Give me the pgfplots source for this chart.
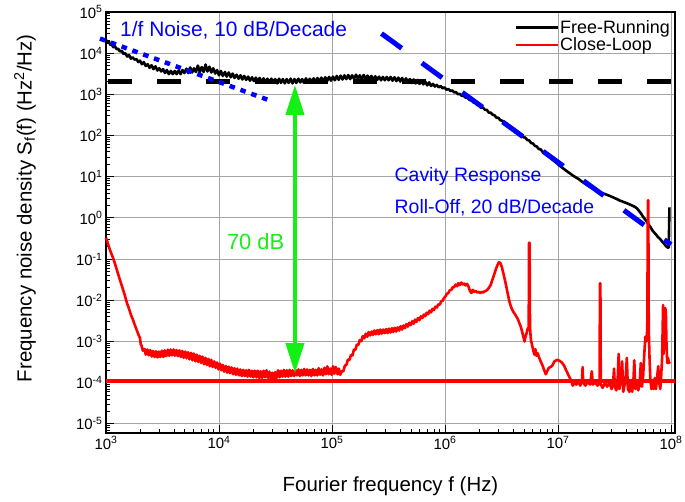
\documentclass[border=0pt]{standalone}
\usepackage{fontspec}
\setmainfont{Liberation Sans}
\usepackage{pgfplots}
\usepackage{pgfplotstable}
\pgfplotsset{compat=1.18}
\usetikzlibrary{arrows.meta}
\definecolor{argreen}{RGB}{20,240,20}
\definecolor{gridgray}{RGB}{165,165,165}

\pgfplotstableread{
f S
1000 21000
1030 18000
1060 19500
1090 16000
1120 16800
1160 14000
1200 14800
1240 12600
1280 12800
1330 11000
1380 11400
1430 9600
1480 10000
1540 8300
1600 9000
1660 7400
1720 7900
1790 7000
1860 7200
1930 6100
2000 6600
2080 5400
2160 6100
2250 4900
2340 5400
2430 4400
2530 5100
2630 4100
2740 4800
2850 3800
2960 4300
3080 3600
3200 4100
3330 3300
3460 3900
3600 3100
3750 3700
3900 3100
4060 3700
4220 3100
4390 3800
4570 3100
4750 3900
4940 3300
5140 4200
5350 3300
5560 4500
5780 3400
6010 4300
6250 3500
6500 5000
6760 3500
7030 4600
7310 3500
7600 5300
7900 3600
8220 4700
8550 3400
8890 4300
9250 3200
9620 3900
10000 2900
10400 3700
10800 2800
11300 3500
11700 2700
12200 3400
12700 2600
13200 3200
13700 2500
14300 3000
14900 2400
15500 2900
16100 2300
16700 2800
17400 2250
18100 2700
18800 2150
19600 2600
20400 2100
21200 2550
22000 2050
22900 2500
23800 2000
24800 2450
25800 1950
26800 2400
27900 1900
29000 2400
30200 1950
31400 2350
32700 1850
34000 2400
35300 1900
36700 2350
38200 1850
39700 2350
41300 1900
43000 2400
44700 1850
46500 2350
48300 1900
50300 2400
52300 1950
54400 2350
56500 1900
58800 2450
61100 1950
63600 2400
66100 1900
68800 2450
71500 1950
74400 2500
77400 2000
80400 2550
83700 2050
87000 2600
90500 2100
94100 2650
97900 2150
101800 2700
105900 2200
110100 2800
114500 2250
119100 2850
123800 2300
128800 2900
133900 2350
139300 2950
144800 2350
150600 2900
156700 2400
163000 3000
169500 2400
176200 2900
183300 2350
190600 2950
198200 2350
206100 2850
214400 2300
223000 2800
231900 2250
241200 2750
250800 2250
260800 2700
271300 2200
282100 2650
293400 2200
305100 2650
317300 2200
330000 2650
343200 2150
356900 2600
371200 2100
386000 2550
401500 2050
417500 2500
434200 2000
451600 2450
469600 1950
488400 2350
507900 1900
528300 2300
549400 1850
571400 2250
594200 1800
618000 2150
642700 1750
668400 2050
695200 1650
723000 1950
751900 1600
782000 1800
813200 1550
845800 1700
879600 1480
914800 1600
951400 1400
989400 1480
1029000 1300
1070000 1350
1113000 1220
1158000 1240
1204000 1120
1252000 1130
1302000 1010
1354000 1020
1408000 920
1465000 930
1523000 830
1584000 830
1648000 730
1714000 720
1782000 640
1853000 630
1928000 560
2005000 550
2085000 480
2168000 480
2255000 420
2345000 420
2439000 360
2536000 360
2638000 320
2743000 310
2853000 270
2967000 270
3086000 235
3209000 230
3337000 200
3471000 195
3610000 170
3754000 168
3904000 146
4060000 142
4223000 125
4392000 121
4567000 107
4750000 104
4940000 91
5137000 89
5343000 78
5556000 76
5779000 66
6010000 64
6250000 56
6500000 54
6760000 47
7031000 46
7312000 40
7604000 38.5
7909000 34.5
8225000 31.5
8554000 29
8896000 26.5
9252000 24
9622000 22
10010000 20
10400000 18.3
10820000 16.8
11250000 15.5
11700000 14.3
12170000 13.2
12660000 12.2
13160000 11.3
13690000 10.5
14240000 9.8
14800000 9.2
15400000 8.6
16020000 7.9
16660000 7.3
17320000 6.8
18010000 6.3
18730000 5.9
19480000 5.5
20260000 5.2
21070000 4.9
21910000 4.6
22790000 4.4
23700000 4.2
24650000 4.0
25630000 3.85
26660000 3.7
27720000 3.55
28830000 3.4
29990000 3.25
31190000 3.1
32430000 2.95
33730000 2.8
35080000 2.65
36480000 2.55
37940000 2.45
39460000 2.35
41030000 2.25
42680000 2.15
44380000 2.05
46160000 1.95
48000000 1.85
49920000 1.7
51920000 1.5
54000000 1.3
56160000 1.1
58400000 0.95
60740000 0.83
63170000 0.7
65700000 0.6
68330000 0.5
71060000 0.44
73900000 0.39
76860000 0.34
79930000 0.31
83130000 0.27
86460000 0.24
89920000 0.21
93500000 0.19
95500000 0.19
96000000 0.5
96800000 1.8
}\blackdata

\pgfplotstableread{
f S
1000 0.33
1030 0.26
1060 0.2
1100 0.15
1150 0.11
1200 0.078
1260 0.05
1330 0.031
1400 0.02
1470 0.013
1530 0.0087
1600 0.0062
1660 0.0045
1730 0.0034
1800 0.0025
1870 0.0019
1950 0.0014
2000 0.0012
2030 0.00085
2060 8.0e-4
2120 6.0e-4
2190 6.6e-4
2250 4.8e-4
2320 6.4e-4
2390 4.6e-4
2460 6.2e-4
2540 4.3e-4
2610 5.9e-4
2690 4.2e-4
2770 5.8e-4
2860 4.1e-4
2940 5.7e-4
3030 4.2e-4
3120 6.0e-4
3220 4.2e-4
3310 6.1e-4
3410 4.4e-4
3520 6.3e-4
3620 4.5e-4
3730 6.4e-4
3840 4.6e-4
3960 6.4e-4
4080 4.5e-4
4200 6.2e-4
4330 4.4e-4
4460 6.1e-4
4590 4.2e-4
4730 5.9e-4
4870 4.0e-4
5020 5.7e-4
5170 3.9e-4
5320 5.5e-4
5480 3.7e-4
5650 5.3e-4
5820 3.5e-4
5990 5.1e-4
6170 3.3e-4
6360 4.8e-4
6550 3.2e-4
6740 4.5e-4
6950 3.0e-4
7150 4.3e-4
7370 2.8e-4
7590 4.0e-4
7820 2.7e-4
8050 3.8e-4
8290 2.5e-4
8540 3.6e-4
8800 2.4e-4
9060 3.3e-4
9330 2.3e-4
9610 3.1e-4
9900 2.1e-4
10200 2.9e-4
10500 2.0e-4
10800 2.7e-4
11100 1.85e-4
11500 2.55e-4
11800 1.75e-4
12200 2.45e-4
12500 1.7e-4
12900 2.35e-4
13300 1.6e-4
13700 2.25e-4
14100 1.55e-4
14500 2.2e-4
15000 1.5e-4
15400 2.1e-4
15900 1.45e-4
16400 2.05e-4
16900 1.45e-4
17400 2.0e-4
17900 1.4e-4
18400 2.05e-4
19000 1.4e-4
19500 1.95e-4
20100 1.35e-4
20700 1.95e-4
21400 1.35e-4
22000 1.95e-4
22700 1.3e-4
23300 1.9e-4
24000 1.3e-4
24800 1.95e-4
25500 1.35e-4
26300 2.0e-4
27100 1.3e-4
27900 1.85e-4
28700 1.2e-4
29600 1.75e-4
30500 1.05e-4
31400 1.8e-4
32300 1.3e-4
33300 2.0e-4
34300 1.35e-4
35300 1.95e-4
36400 1.4e-4
37500 2.05e-4
38600 1.4e-4
39800 2.0e-4
41000 1.4e-4
42200 2.05e-4
43400 1.45e-4
44700 2.0e-4
46100 1.45e-4
47500 2.05e-4
48900 1.5e-4
50400 2.1e-4
51900 1.45e-4
53400 2.05e-4
55000 1.5e-4
56700 2.15e-4
58400 1.5e-4
60100 2.1e-4
61900 1.5e-4
63800 2.05e-4
65700 1.45e-4
67700 2.15e-4
69700 1.5e-4
71800 2.05e-4
74000 1.5e-4
76200 2.25e-4
78400 1.55e-4
80800 2.1e-4
83200 1.5e-4
85700 2.3e-4
88300 1.6e-4
90900 2.5e-4
93600 1.6e-4
96400 2.2e-4
99300 1.55e-4
102000 2.5e-4
105000 1.65e-4
108000 2.4e-4
112000 1.6e-4
115000 2.2e-4
118000 1.55e-4
122000 1.9e-4
126000 1.9e-4
130000 2.6e-4
134000 2.7e-4
138000 3.6e-4
143000 3.6e-4
147000 4.7e-4
152000 4.6e-4
156000 6.3e-4
161000 6.3e-4
166000 8.4e-4
171000 8.3e-4
176000 1.08e-3
182000 1.02e-3
187000 1.35e-3
193000 1.2e-3
199000 1.55e-3
205000 1.3e-3
211000 1.7e-3
217000 1.4e-3
224000 1.75e-3
230000 1.45e-3
237000 1.85e-3
244000 1.5e-3
252000 1.9e-3
259000 1.5e-3
267000 1.95e-3
275000 1.55e-3
283000 1.95e-3
292000 1.6e-3
301000 2.0e-3
310000 1.6e-3
319000 2.05e-3
329000 1.65e-3
339000 2.1e-3
349000 1.7e-3
359000 2.15e-3
370000 1.75e-3
381000 2.2e-3
393000 1.85e-3
404000 2.35e-3
417000 1.95e-3
429000 2.45e-3
442000 2.1e-3
455000 2.65e-3
469000 2.3e-3
483000 2.85e-3
497000 2.5e-3
512000 3.1e-3
528000 2.7e-3
543000 3.4e-3
560000 3.0e-3
576000 3.7e-3
594000 3.3e-3
611000 4.1e-3
630000 3.7e-3
649000 4.5e-3
668000 4.1e-3
688000 5.0e-3
709000 4.6e-3
730000 5.6e-3
752000 5.1e-3
775000 6.2e-3
798000 5.8e-3
822000 7.0e-3
847000 6.7e-3
872000 8.0e-3
898000 7.8e-3
925000 9.5e-3
953000 9.8e-3
981000 1.15e-2
1010000 1.25e-2
1040000 1.45e-2
1070000 1.5e-2
1100000 1.75e-2
1140000 1.8e-2
1170000 2.1e-2
1200000 2.05e-2
1240000 2.4e-2
1280000 2.2e-2
1310000 2.6e-2
1350000 2.35e-2
1390000 2.7e-2
1440000 2.4e-2
1480000 2.55e-2
1520000 2.3e-2
1570000 2.5e-2
1610000 2.2e-2
1660000 1.7e-2
1710000 1.5e-2
1760000 1.8e-2
1820000 1.6e-2
1870000 1.7e-2
1930000 1.55e-2
1990000 1.6e-2
2050000 1.5e-2
2110000 1.6e-2
2170000 1.55e-2
2240000 1.65e-2
2300000 1.7e-2
2370000 1.8e-2
2440000 2.0e-2
2520000 2.3e-2
2590000 2.8e-2
2670000 3.6e-2
2750000 4.6e-2
2830000 5.9e-2
2920000 7.3e-2
3000000 8.5e-2
3090000 8.0e-2
3180000 6.5e-2
3280000 4.6e-2
3380000 3.2e-2
3480000 2.2e-2
3580000 1.5e-2
3690000 1.0e-2
3800000 7.5e-3
3920000 6.0e-3
4030000 5.2e-3
4160000 4.6e-3
4280000 4.0e-3
4410000 3.5e-3
4540000 2.8e-3
4680000 2.3e-3
4820000 1.7e-3
4970000 1.2e-3
5050000 1.0e-3
5150000 1.3e-3
5270000 1.6e-3
5400000 2.1e-3
5500000 2.0e-3
5540000 0.25
5600000 0.25
5650000 2.2e-3
5750000 1.1e-3
5900000 8.0e-4
6050000 6.0e-4
6170000 4.8e-4
6300000 6.5e-4
6450000 4.5e-4
6600000 5.2e-4
6820000 4.0e-4
7050000 3.2e-4
7300000 2.6e-4
7550000 2.0e-4
7800000 1.6e-4
8000000 1.9e-4
8300000 2.3e-4
8600000 2.4e-4
8890000 2.6e-4
9300000 3.3e-4
9840000 3.6e-4
10300000 3.4e-4
10800000 3.1e-4
11300000 2.6e-4
11800000 2.0e-4
12400000 1.5e-4
13000000 1.15e-4
13500000 8.5e-5
14000000 1.0e-4
14500000 9.0e-5
15100000 1.05e-4
15700000 8.5e-5
16300000 1.1e-4
16500000 2.4e-4
16700000 1.0e-4
17500000 8.5e-5
18300000 1.05e-4
19200000 9.0e-5
19900000 1.9e-4
20300000 9.0e-5
21200000 1.0e-4
22400000 8.5e-5
23300000 1.0e-4
23500000 2.6e-2
23700000 2.6e-2
23900000 9.0e-5
24800000 7.5e-5
26000000 1.0e-4
27200000 8.0e-5
28500000 1.0e-4
29800000 7.0e-5
30800000 1.1e-4
31300000 2.2e-4
31800000 8.0e-5
32800000 6.5e-5
33700000 1.2e-4
34400000 5.0e-4
34900000 7.0e-5
36000000 1.1e-4
36900000 3.3e-4
37800000 6.0e-5
38800000 9.0e-5
39600000 1.2e-4
40600000 4.0e-4
41500000 7.0e-5
42700000 6.0e-5
43900000 1.0e-4
45300000 6.0e-5
46500000 1.2e-4
47300000 3.5e-4
48300000 7.0e-5
49800000 1.1e-4
51200000 6.5e-5
52700000 9.0e-5
54000000 3.0e-4
55300000 8.0e-5
56700000 1.5e-4
58000000 5.0e-4
59200000 1.3e-3
60400000 1.0e-3
61600000 2.0e-3
62400000 2.7
62900000 2.7
63500000 2.0e-3
64500000 4.0e-4
65600000 1.2e-4
67000000 7.0e-5
68500000 1.0e-4
70200000 7.0e-5
71800000 1.3e-4
73500000 7.0e-5
75200000 1.3e-4
77000000 2.5e-4
78500000 1.0e-4
80300000 7.0e-5
81800000 1.5e-4
83400000 4.0e-4
85000000 7.7e-3
86000000 5.0e-4
87000000 6.0e-3
88000000 1.5e-3
89000000 6.5e-3
90000000 5.0e-3
91000000 1.0e-3
92500000 3.0e-4
94000000 4.0e-4
96000000 3.0e-4
97500000 3.2e-4
}\reddata

\begin{document}
\begin{tikzpicture}
\begin{axis}[
  name=ax,
  scale only axis,
  width=569bp, height=421bp,
  xmode=log, ymode=log,
  log basis x=10, log basis y=10,
  xmin=1e3, xmax=1.084e8,
  ymin=6.0e-6, ymax=1e5,
  xtick={1e3,1e4,1e5,1e6,1e7,1e8},
  ytick={1e-5,1e-4,1e-3,1e-2,1e-1,1e0,1e1,1e2,1e3,1e4,1e5},
  minor xtick={2e3,3e3,4e3,5e3,6e3,7e3,8e3,9e3,2e4,3e4,4e4,5e4,6e4,7e4,8e4,9e4,2e5,3e5,4e5,5e5,6e5,7e5,8e5,9e5,2e6,3e6,4e6,5e6,6e6,7e6,8e6,9e6,2e7,3e7,4e7,5e7,6e7,7e7,8e7,9e7},
  minor ytick={6e-6,7e-6,8e-6,9e-6,2e-5,3e-5,4e-5,5e-5,6e-5,7e-5,8e-5,9e-5,2e-4,3e-4,4e-4,5e-4,6e-4,7e-4,8e-4,9e-4,2e-3,3e-3,4e-3,5e-3,6e-3,7e-3,8e-3,9e-3,2e-2,3e-2,4e-2,5e-2,6e-2,7e-2,8e-2,9e-2,0.2,0.3,0.4,0.5,0.6,0.7,0.8,0.9,2,3,4,5,6,7,8,9,20,30,40,50,60,70,80,90,200,300,400,500,600,700,800,900,2e3,3e3,4e3,5e3,6e3,7e3,8e3,9e3,2e4,3e4,4e4,5e4,6e4,7e4,8e4,9e4},
  xticklabel={\pgfmathtruncatemacro\myexp{round(\tick)}10\textsuperscript{\myexp}},
  yticklabel={\pgfmathtruncatemacro\myexp{round(\tick)}10\textsuperscript{\myexp}},
  ticklabel style={font=\fontsize{15}{15}\selectfont},
  tick pos=left,
  tick align=inside,
  major tick length=8bp,
  minor tick length=4.5bp,
  tick style={black, line width=1bp},
  grid=major,
  major grid style={gridgray, line width=0.9bp},
  axis line style={line width=1.3bp},
  clip=false,
  xlabel={Fourier frequency f (Hz)},
  ylabel={Frequency noise density S\textsubscript{f}(f) (Hz\textsuperscript{2}/Hz)},
  xlabel style={font=\fontsize{20.5}{24}\selectfont, at={(axis description cs:0.5,-0.126)}, anchor=center},
  ylabel style={font=\fontsize{20.5}{24}\selectfont, at={(axis description cs:-0.1424,0.534)}, anchor=center, rotate=0},
  legend style={draw=none, fill=none, at={(rel axis cs:1,1)}, anchor=north east,
    xshift=-4bp, yshift=-7bp, inner sep=0pt, row sep=1bp,
    font=\fontsize{18}{18}\selectfont, nodes={inner sep=1bp},
    /tikz/every even column/.append style={column sep=3bp}},
  legend image code/.code={\draw[#1, line width=2.8bp] (0bp,0bp) -- (42bp,0bp);},
  legend cell align=left,
]
% horizontal reference levels
\addplot[black, line width=4.5bp, dash pattern=on 24bp off 25bp, dash phase=-2bp, forget plot] coordinates {(1e3,2050) (1.084e8,2050)};
\addplot[red, line width=4.5bp, forget plot] coordinates {(1e3,1.1e-4) (1.084e8,1.1e-4)};
% measured spectra
\addplot[black, line width=2.6bp, line join=round] table[x=f, y=S] {\blackdata};
\addlegendentry{Free-Running}
\addplot[red, line width=2.6bp, line join=round] table[x=f, y=S] {\reddata};
\addlegendentry{Close-Loop}
% guide lines
\addplot[blue, line width=4.5bp, dash pattern=on 5.5bp off 6bp, forget plot] coordinates {(885,22600) (2.7e4,740)};
\addplot[blue, line width=5bp, dash pattern=on 25bp off 25bp, forget plot] coordinates {(2.74e5,3.0e4) (1.0e8,0.225)};
% annotations
\node[blue, anchor=west, inner sep=0pt, font=\fontsize{21}{24}\selectfont] at (axis cs:1.33e3,3.68e4) {1/f Noise, 10 dB/Decade};
\node[blue, anchor=west, inner sep=0pt, font=\fontsize{19.5}{24}\selectfont] at (axis cs:3.57e5,10) {Cavity Response};
\node[blue, anchor=west, inner sep=0pt, font=\fontsize{19.5}{24}\selectfont] at (axis cs:3.57e5,1.76) {Roll-Off, 20 dB/Decade};
\node[argreen, anchor=center, inner sep=0pt, font=\fontsize{22}{24}\selectfont] at (axis cs:2.11e4,0.263) {70 dB};
\draw[argreen, line width=4bp, {Triangle[width=18bp,length=30bp]}-{Triangle[width=18bp,length=30bp]}] (axis cs:4.7e4,1.7e3) -- (axis cs:4.7e4,1.7e-4);
\end{axis}
\pgfresetboundingbox
\path ([shift={(-106bp,-69bp)}]ax.south west) rectangle ([shift={(10bp,12bp)}]ax.north east);
\end{tikzpicture}
\end{document}
